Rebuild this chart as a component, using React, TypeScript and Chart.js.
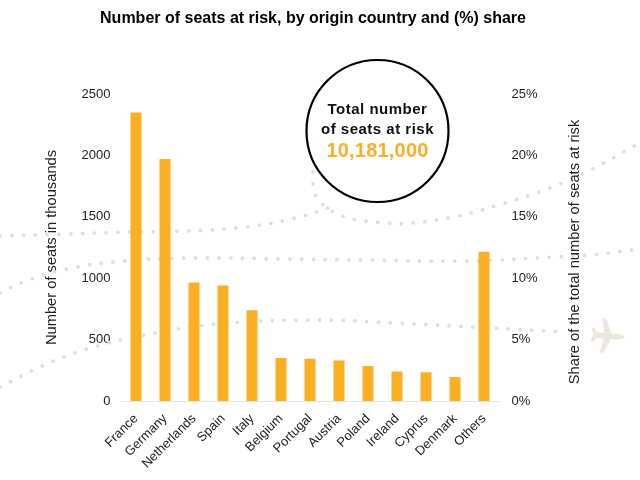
import { useEffect, useRef } from 'react'
import { Chart, registerables } from 'chart.js'
Chart.register(...registerables)

const categories = ['France', 'Germany', 'Netherlands', 'Spain', 'Italy', 'Belgium', 'Portugal', 'Austria', 'Poland', 'Ireland', 'Cyprus', 'Denmark', 'Others']
const seats = [2350, 1970, 965, 940, 740, 350, 345, 330, 285, 240, 235, 195, 1215]
const shareTicks = [0, 5, 10, 15, 20, 25]

// background flight paths in its own x/y units
const pathTop = [[0, 236], [68, 234], [128, 232], [187, 231], [245, 227], [292, 219], [337, 205]]
const pathLoop = [[313, 172], [313, 183], [315, 194], [322, 204], [342, 216], [365, 221], [388, 223], [412, 223], [458, 216], [505, 203], [550, 188], [592, 169], [640, 143]]
const pathMiddle = [[0, 293], [23, 282], [67, 269], [123, 261], [192, 258], [283, 259], [362, 260], [465, 261], [555, 257], [590, 255], [640, 249]]
const pathBottom = [[0, 387], [42, 366], [87, 349], [145, 335], [217, 324], [312, 320], [395, 323], [490, 328], [565, 332]]
const planeAt = [608, 336]
const circleAt = [377.5, 131]

const ORANGE = '#fbb024'
const DOTS = '#dfded7'
const FONT = '"Liberation Sans", Arial, sans-serif'

const makePlane = () => {
  const c = document.createElement('canvas')
  c.width = 40
  c.height = 40
  const g = c.getContext('2d') as CanvasRenderingContext2D
  g.translate(20, 20)
  g.rotate(0.08)
  g.fillStyle = '#ece7dc'
  g.beginPath()
  g.moveTo(17, 0)
  g.quadraticCurveTo(15, -2.5, 10, -2.8)
  g.lineTo(3, -2.8)
  g.lineTo(-3, -17)
  g.lineTo(-7, -17)
  g.lineTo(-4, -2.8)
  g.lineTo(-11, -2.8)
  g.lineTo(-14, -7)
  g.lineTo(-17, -7)
  g.lineTo(-15, 0)
  g.lineTo(-17, 7)
  g.lineTo(-14, 7)
  g.lineTo(-11, 2.8)
  g.lineTo(-4, 2.8)
  g.lineTo(-7, 17)
  g.lineTo(-3, 17)
  g.lineTo(3, 2.8)
  g.lineTo(10, 2.8)
  g.quadraticCurveTo(15, 2.5, 17, 0)
  g.fill()
  return c
}
const planeImage = makePlane()

const toXY = (pts: number[][]) => pts.map(([x, y]) => ({ x, y }))

const dotted = (pts: number[][]) => ({
  type: 'line' as const,
  data: toXY(pts),
  xAxisID: 'bgX',
  yAxisID: 'bgY',
  borderColor: DOTS,
  borderWidth: 3.8,
  borderCapStyle: 'round' as const,
  borderDash: [0, 11.8],
  pointRadius: 0,
  tension: 0.4,
  clip: false as const,
  order: 3,
})

const textPlugin = {
  id: 'circleText',
  beforeDatasetsDraw(chart: any) {
    const { ctx, scales } = chart
    ctx.drawImage(planeImage, scales.bgX.getPixelForValue(planeAt[0]) - 20, scales.bgY.getPixelForValue(planeAt[1]) - 20)
  },
  afterDraw(chart: any) {
    const { ctx, scales } = chart
    const cx = scales.bgX.getPixelForValue(circleAt[0])
    ctx.save()
    ctx.textAlign = 'center'
    ctx.textBaseline = 'middle'
    ctx.fillStyle = '#111'
    ctx.font = `bold 15px ${FONT}`
    ctx.letterSpacing = '0.5px'
    ctx.fillText('Total number', cx, 110)
    ctx.fillText('of seats at risk', cx, 129.5)
    ctx.fillStyle = ORANGE
    ctx.font = `bold 20px ${FONT}`
    ctx.letterSpacing = '0.2px'
    ctx.fillText('10,181,000', cx, 151)
    // right axis title reads bottom to top, which chart.js won't do on its own
    ctx.letterSpacing = '0px'
    ctx.translate(575, 252)
    ctx.rotate(-Math.PI / 2)
    ctx.fillStyle = '#222'
    ctx.font = `14.7px ${FONT}`
    ctx.fillText('Share of the total number of seats at risk', 0, 0)
    ctx.restore()
  },
}

const App = () => {
  const canvas = useRef<HTMLCanvasElement>(null)
  useEffect(() => {
    document.body.style.margin = '0'
    const chart = new Chart(canvas.current as HTMLCanvasElement, {
      type: 'bar',
      data: {
        labels: categories,
        datasets: [
          {
            type: 'bar',
            data: seats,
            backgroundColor: ORANGE,
            barPercentage: 0.38,
            categoryPercentage: 1,
            grouped: false,
            xAxisID: 'x',
            yAxisID: 'y',
            order: 1,
          },
          {
            type: 'scatter',
            data: toXY([circleAt]),
            xAxisID: 'bgX',
            yAxisID: 'bgY',
            pointRadius: 71,
            pointBackgroundColor: '#ffffff',
            pointBorderColor: '#000000',
            pointBorderWidth: 2.2,
            clip: false,
            order: 2,
          },
          dotted(pathTop),
          dotted(pathLoop),
          dotted(pathMiddle),
          dotted(pathBottom),
        ] as any,
      },
      options: {
        responsive: false,
        animation: false,
        layout: { padding: { left: 0, right: 14, top: 0, bottom: 0 } },
        plugins: {
          legend: { display: false },
          tooltip: { enabled: false },
          title: {
            display: true,
            text: 'Number of seats at risk, by origin country and (%) share',
            color: '#000',
            font: { family: FONT, size: 16, weight: 'bold' },
            padding: { top: 9.4, bottom: 65.4 },
          },
        },
        scales: {
          x: {
            grid: { display: false },
            border: { color: '#e4e4e4' },
            ticks: {
              color: '#222',
              font: { family: FONT, size: 13 },
              minRotation: 45,
              maxRotation: 45,
              autoSkip: false,
              padding: 2,
            },
            afterFit: (s: any) => { s.height = 79 },
          },
          y: {
            min: 0,
            max: 2500,
            grid: { display: false, drawTicks: false },
            border: { display: false },
            ticks: { stepSize: 500, color: '#222', font: { family: FONT, size: 13 }, padding: 11, callback: (v: any) => String(v) },
            title: { display: true, text: 'Number of seats in thousands', color: '#222', font: { family: FONT, size: 14.7 }, padding: { top: 43, bottom: 4 } },
            afterFit: (s: any) => { s.width = 121.5 },
          },
          y1: {
            position: 'right',
            min: 0,
            max: 25,
            grid: { display: false, drawTicks: false },
            border: { display: false },
            afterBuildTicks: (s: any) => { s.ticks = shareTicks.map((value) => ({ value })) },
            ticks: { color: '#222', font: { family: FONT, size: 13 }, padding: 13, callback: (v: any) => `${v}%` },
            afterFit: (s: any) => { s.width = 127.5 },
          },
          // bounds set after the limits, so the line controller keeps the points outside the plot
          bgX: {
            type: 'linear',
            display: false,
            offset: false,
            bounds: 'data',
            afterDataLimits: (s: any) => { s.min = 121.5; s.max = 498.5 },
          },
          bgY: { type: 'linear', display: false, min: 94, max: 401, reverse: true },
        },
      },
      plugins: [textPlugin],
    })
    return () => chart.destroy()
  }, [])
  return <canvas ref={canvas} width={640} height={480} style={{ display: 'block' }}></canvas>
}

export default App
